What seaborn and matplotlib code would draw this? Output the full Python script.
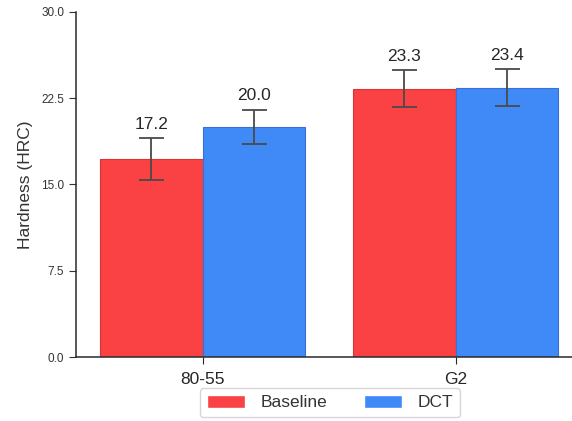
import matplotlib
matplotlib.use("Agg")
import matplotlib.pyplot as plt
import seaborn as sns
import pandas as pd
import numpy as np

categories = ["80-55", "G2"]
series = ["Baseline", "DCT"]
baseline = [17.2, 23.3]
dct = [20.0, 23.4]
baseline_err = [1.8, 1.6]
dct_err = [1.5, 1.6]
yticks = [0.0, 7.5, 15.0, 22.5, 30.0]

sns.set_style("ticks")
plt.rcParams['font.family'] = ['Liberation Sans', 'DejaVu Sans']

df = pd.DataFrame({
    "cat": categories * 2,
    "series": [series[0]] * 2 + [series[1]] * 2,
    "val": baseline + dct,
})

fig = plt.figure(figsize=(5.72, 4.21), dpi=100)
ax = fig.add_axes([0.133, 0.152, 0.867, 0.82])
palette = {"Baseline": "#fa4143", "DCT": "#3f8af6"}
sns.barplot(data=df, x="cat", y="val", hue="series", palette=palette,
            errorbar=None, width=0.81, saturation=1, ax=ax, legend=True)
edges = {"Baseline": "#d83436", "DCT": "#3a6fd6"}
for cont, s in zip(ax.containers, series):
    vals = baseline if s == "Baseline" else dct
    err = baseline_err if s == "Baseline" else dct_err
    xs = [p.get_x() + p.get_width() / 2 for p in cont.patches]
    for p in cont.patches:
        p.set_edgecolor(edges[s])
        p.set_linewidth(0.8)
    ax.errorbar(xs, vals, yerr=err, fmt="none", ecolor="#4a4a4a",
                elinewidth=1.3, capsize=9, capthick=1.3)
    for x, v, e in zip(xs, vals, err):
        ax.text(x, v + e + 0.55, f"{v:.1f}", ha="center", va="bottom",
                fontsize=12.5, color="#262626")

ax.set_ylim(0, 30)
ax.set_yticks(yticks)
ax.set_yticklabels([f"{t:.1f}" for t in yticks], fontsize=8.5, color="#333333")
ax.set_xlim(-0.5, 1.46)
ax.tick_params(axis="x", labelsize=12.5, length=5, pad=6, colors="#262626")
ax.tick_params(axis="y", length=5, colors="#333333")
ax.set_xlabel("")
ax.set_ylabel("Hardness (HRC)", fontsize=12.5, color="#333333", labelpad=6)
sns.despine(ax=ax)
for sp in ["left", "bottom"]:
    ax.spines[sp].set_color("#2a2a2a")
    ax.spines[sp].set_linewidth(1.1)

handles, labels = ax.get_legend_handles_labels()
leg = ax.legend(handles, labels, loc="upper center", bbox_to_anchor=(0.512, -0.09),
          ncol=2, fontsize=12.5, frameon=True, handlelength=2.2, handleheight=0.75,
          handletextpad=0.9, columnspacing=2.1, borderaxespad=0, borderpad=0.4)
for t in leg.get_texts():
    t.set_color("#333333")

fig.savefig("out.png", dpi=100)
